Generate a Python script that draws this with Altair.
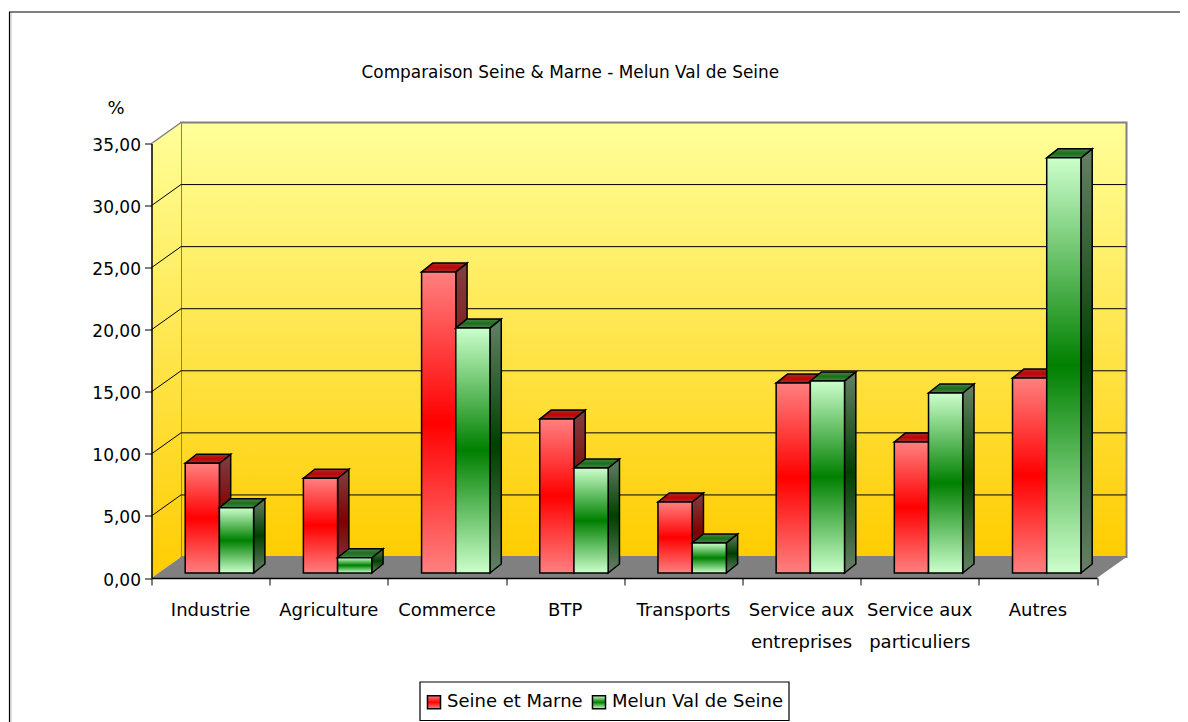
import altair as alt
import pandas as pd

categories = ["Industrie", "Agriculture", "Commerce", "BTP", "Transports",
              "Service aux\nentreprises", "Service aux\nparticuliers", "Autres"]
seine_marne = [8.84, 7.63, 24.25, 12.4, 5.72, 15.3, 10.56, 15.7]
melun = [5.26, 1.23, 19.74, 8.46, 2.42, 15.47, 14.5, 33.44]
series_names = ["Seine et Marne", "Melun Val de Seine"]
y_ticks = [0, 5, 10, 15, 20, 25, 30, 35]
x_ticks = list(range(9))

# geometry of the pseudo-3D box, in plot pixels
W, H = 945.5, 434.5
PX, PY = W / 8, H / 35
WALL_DX, WALL_DY = 29.5 / PX, 21 / PY
BAR_X0, BAR_W = 33.7 / PX, 34.2 / PX
BAR_DX, BAR_DY = 11.3 / PX, 9 / PY
BASE = 5 / PY


def grad(a, b):
    return {"gradient": "linear", "x1": 0, "y1": 0, "x2": 0, "y2": 1,
            "stops": [{"offset": 0, "color": a}, {"offset": 0.5, "color": b},
                      {"offset": 1, "color": a}]}


def grad_expr(a, b):
    return {"expr": "{gradient:'linear',x1:0,y1:0,x2:0,y2:1,stops:["
                    f"{{offset:0,color:'{a}'}},{{offset:0.5,color:'{b}'}},{{offset:1,color:'{a}'}}]}}"}


sx = alt.Scale(domain=[0, 8], nice=False, zero=False)
sy = alt.Scale(domain=[0, 35], nice=False, zero=False)
axis_x = alt.Axis(values=x_ticks, labels=False, grid=False, title=None, tickSize=7, zindex=1,
                  tickColor="black", domainColor="black", domainWidth=1.5, tickWidth=1)
axis_y = alt.Axis(values=y_ticks, grid=False, title="%", titleAngle=0, titleFont="DejaVu Sans",
                  titleFontSize=18, titleFontWeight="normal", titleX=-36, titleY=-35, titleBaseline="middle",
                  titleAlign="center", tickSize=7, tickColor="black", tickWidth=1, zindex=1,
                  domainColor="black", domainWidth=1.5, labelFont="DejaVu Sans", labelFontSize=17,
                  labelColor="black", labelPadding=4, labelOffset=2,
                  labelExpr="replace(format(datum.value,'.2f'),'.',',')")
X = alt.X("x:Q", scale=sx, axis=axis_x)
Y = alt.Y("y:Q", scale=sy, axis=axis_y)
X2 = alt.X2("x2:Q")
Y2 = alt.Y2("y2:Q")

# walls and floor
wall_fill = {"gradient": "linear", "x1": 0, "y1": 0, "x2": 0, "y2": 1,
             "stops": [{"offset": 0, "color": "#ffff99"}, {"offset": 1, "color": "#ffcc00"}]}
back = alt.Chart(pd.DataFrame([{"x": WALL_DX, "x2": 8 + WALL_DX, "y": WALL_DY, "y2": 35 + WALL_DY}])).mark_rect(
    fill=wall_fill, stroke="#808080", strokeWidth=2).encode(X, X2, Y, Y2)
left = alt.Chart(pd.DataFrame([{"x": 0, "y": 0, "y2": 35}, {"x": WALL_DX, "y": WALL_DY, "y2": 35 + WALL_DY}])).mark_area(
    fill=wall_fill, orient="vertical").encode(X, Y, Y2)
floor = alt.Chart(pd.DataFrame([{"y": 0, "x": 0, "x2": 8}, {"y": WALL_DY, "x": WALL_DX, "x2": 8 + WALL_DX}])).mark_area(
    fill="#808080", orient="horizontal").encode(X, X2, Y)

# gridlines: along the left wall then along the back wall
grid_rows = []
for v in y_ticks[1:-1]:
    grid_rows += [{"x": 0, "y": v, "g": v}, {"x": WALL_DX, "y": v + WALL_DY, "g": v},
                  {"x": 8 + WALL_DX, "y": v + WALL_DY, "g": v}]
grid = alt.Chart(pd.DataFrame(grid_rows)).mark_line(color="black", strokeWidth=1).encode(X, Y, detail="g:N")
top_edge = alt.Chart(pd.DataFrame([{"x": 0, "y": 35}, {"x": WALL_DX, "y": 35 + WALL_DY}])).mark_line(
    color="#808080", strokeWidth=1.5).encode(X, Y)

# bars
rows, side, topf = [], [], []
for s, values in enumerate([seine_marne, melun]):
    for i, v in enumerate(values):
        x0 = i + BAR_X0 + s * BAR_W
        x1 = x0 + BAR_W
        yb, yt = BASE, BASE + v
        rows.append({"x": x0, "x2": x1, "y": yb, "y2": yt, "serie": series_names[s]})
        side += [{"x": x1, "y": yt, "y2": yb, "b": i, "s": s},
                 {"x": x1 + BAR_DX, "y": yt + BAR_DY, "y2": yb + BAR_DY, "b": i, "s": s}]
        topf += [{"y": yt, "x": x0, "x2": x1, "b": i, "s": s},
                 {"y": yt + BAR_DY, "x": x0 + BAR_DX, "x2": x1 + BAR_DX, "b": i, "s": s}]
rows, side, topf = pd.DataFrame(rows), pd.DataFrame(side), pd.DataFrame(topf)

FRONT = {0: ("#ff8080", "#ff0000"), 1: ("#ccffcc", "#008000")}
SIDE = {0: ("#804040", "#800000"), 1: ("#668066", "#004000")}
TOP = {0: ("#993333", "#c80000"), 1: ("#4d804d", "#1a701a")}

color = alt.Color("serie:N", scale=alt.Scale(domain=series_names,
                  range=[grad_expr(*FRONT[0]), grad_expr(*FRONT[1])]),
                  legend=alt.Legend(title=None, orient="none", legendX=273.5, legendY=549.5, direction="horizontal",
                                    columns=2, symbolType="square", symbolSize=170, symbolStrokeColor="black",
                                    symbolStrokeWidth=1.5, labelFont="DejaVu Sans", labelFontSize=18,
                                    labelColor="black", padding=0,
                                    columnPadding=6, labelOffset=4, labelLimit=300))

bar_layers = []
for s in (0, 1):
    bar_layers.append(alt.Chart(side[side.s == s]).mark_area(
        fill=grad(*SIDE[s]), stroke="black", strokeWidth=1.5, orient="vertical").encode(X, Y, Y2, detail="b:N"))
    bar_layers.append(alt.Chart(topf[topf.s == s]).mark_area(
        fill=grad(*TOP[s]), stroke="black", strokeWidth=1.5, orient="horizontal").encode(X, X2, Y, detail="b:N"))
    bar_layers.append(alt.Chart(rows[rows.serie == series_names[s]]).mark_rect(
        stroke="black", strokeWidth=1.5).encode(X, X2, Y, Y2, color))

# category labels
labels = alt.Chart(pd.DataFrame({"x": [i + 0.5 for i in range(8)], "y": [0] * 8, "t": categories})).mark_text(
    font="DejaVu Sans", fontSize=18, color="black", align="center", baseline="top", yOffset=24,
    lineBreak="\n", lineHeight=32).encode(X, Y, text="t:N")

# outer frame of the chart and box of the legend
one = pd.DataFrame({"a": [0]})
frame = alt.Chart(one).mark_rect(fill="white", stroke="black", strokeWidth=1.2).encode(
    x=alt.value(-142), x2=alt.value(1300), y=alt.value(-131.5), y2=alt.value(900))
frame_shade = alt.Chart(one).mark_rule(color="#bbbbbb", strokeWidth=1).encode(
    x=alt.value(-140.5), y=alt.value(-130.5), y2=alt.value(900))
legend_box = alt.Chart(one).mark_rect(fill="white", stroke="black", strokeWidth=1.2).encode(
    x=alt.value(268.5), x2=alt.value(637.5), y=alt.value(538.5), y2=alt.value(577))

chart = alt.layer(frame, frame_shade, legend_box, back, left, floor, grid, top_edge, *bar_layers, labels).properties(
    width=W, height=H,
    padding={"left": 143.5, "top": 135.5, "right": 83, "bottom": 144},
    autosize=alt.AutoSizeParams(type="none"),
    title=alt.TitleParams("Comparaison Seine & Marne  - Melun Val de Seine", font="DejaVu Sans", fontSize=16.9,
                          fontWeight="normal", color="black", anchor="start", frame="group", dx=210, offset=-70),
).configure_view(stroke=None)

chart.save("out.html", embed_options={"renderer": "svg", "actions": False})
